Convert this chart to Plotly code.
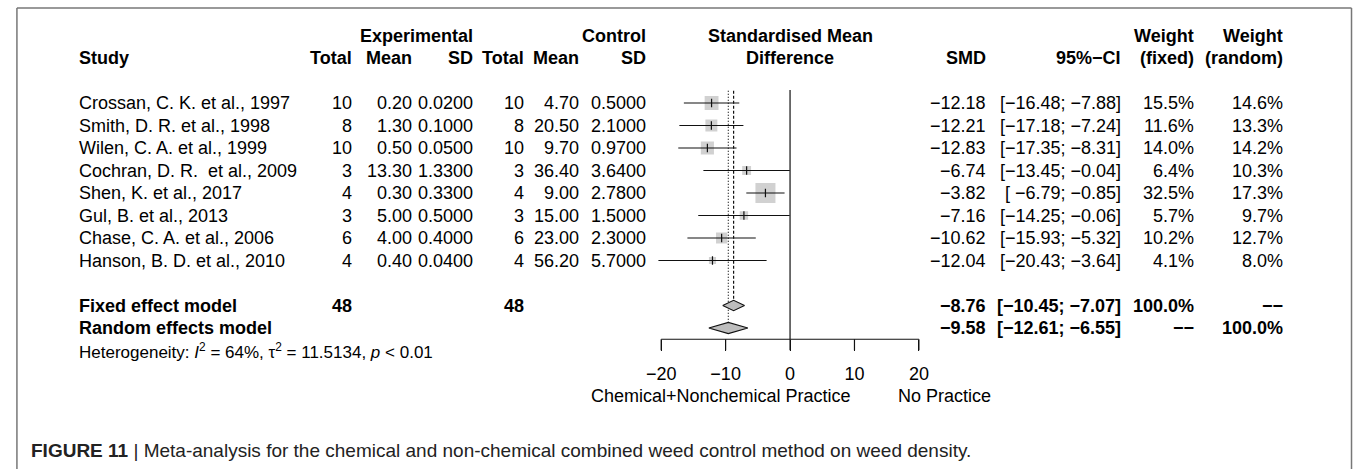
import plotly.graph_objects as go
import math

# ---------------- data ----------------
studies = ["Crossan, C. K. et al., 1997", "Smith, D. R. et al., 1998", "Wilen, C. A. et al., 1999",
           "Cochran, D. R.\u00a0 et al., 2009", "Shen, K. et al., 2017", "Gul, B. et al., 2013",
           "Chase, C. A. et al., 2006", "Hanson, B. D. et al., 2010"]
exp_n = [10, 8, 10, 3, 4, 3, 6, 4]
exp_mean = [0.20, 1.30, 0.50, 13.30, 0.30, 5.00, 4.00, 0.40]
exp_sd = [0.0200, 0.1000, 0.0500, 1.3300, 0.3300, 0.5000, 0.4000, 0.0400]
ctrl_n = [10, 8, 10, 3, 4, 3, 6, 4]
ctrl_mean = [4.70, 20.50, 9.70, 36.40, 9.00, 15.00, 23.00, 56.20]
ctrl_sd = [0.5000, 2.1000, 0.9700, 3.6400, 2.7800, 1.5000, 2.3000, 5.7000]
smd = [-12.18, -12.21, -12.83, -6.74, -3.82, -7.16, -10.62, -12.04]
ci_lo = [-16.48, -17.18, -17.35, -13.45, -6.79, -14.25, -15.93, -20.43]
ci_hi = [-7.88, -7.24, -8.31, -0.04, -0.85, -0.06, -5.32, -3.64]
w_fixed = [15.5, 11.6, 14.0, 6.4, 32.5, 5.7, 10.2, 4.1]
w_random = [14.6, 13.3, 14.2, 10.3, 17.3, 9.7, 12.7, 8.0]

fixed_est, fixed_lo, fixed_hi = -8.76, -10.45, -7.07
random_est, random_lo, random_hi = -9.58, -12.61, -6.55
total_exp, total_ctrl = 48, 48
tick_vals = [-20, -10, 0, 10, 20]
label_left, label_left_pos = "Chemical+Nonchemical Practice", -10.7
label_right, label_right_pos = "No Practice", 24.0

# ---------------- geometry ----------------
W, H = 1357, 469
ROW0, ROWH = 103.0, 22.5          # pixel y of first study row, row height
X0, XS = 788.6, 6.505             # pixel x of SMD 0, pixels per unit
XR = (-21, 21)
FONT = "Liberation Sans, Arial, Helvetica, sans-serif"
FS = 18
LC = "#111"


def px(x):
    return x / W


def py(y):
    return 1 - y / H


def xdata_to_paper(v):
    return px(X0 + v * XS)


n = len(studies)
r_fixed = n + 1
r_random = n + 2
r_axis = n + 2.5
tick_len_rows = 11 / ROWH

fig = go.Figure()

# squares
sizes = [20 * math.sqrt(w / max(w_fixed)) for w in w_fixed]
fig.add_trace(go.Scatter(x=smd, y=list(range(n)), mode="markers",
                         marker=dict(symbol="square", size=sizes, color="#bdbdbd", line=dict(width=0)),
                         hoverinfo="skip"))
# CI lines
lx, ly = [], []
for i in range(n):
    lx += [ci_lo[i], ci_hi[i], None]
    ly += [i, i, None]
fig.add_trace(go.Scatter(x=lx, y=ly, mode="lines", line=dict(color=LC, width=1.2), hoverinfo="skip"))
# estimate tick
fig.add_trace(go.Scatter(x=smd, y=list(range(n)), mode="markers",
                         marker=dict(symbol="line-ns", size=6, line=dict(color=LC, width=1.2)),
                         hoverinfo="skip"))

# reference lines
fig.add_trace(go.Scatter(x=[0, 0], y=[-0.58, r_axis], mode="lines",
                         line=dict(color=LC, width=1.2), hoverinfo="skip"))
fig.add_trace(go.Scatter(x=[fixed_est, fixed_est], y=[-0.55, r_fixed - 0.23], mode="lines",
                         line=dict(color=LC, width=1.2, dash="3px,2px"), hoverinfo="skip"))
fig.add_trace(go.Scatter(x=[random_est, random_est], y=[-0.55, r_random - 0.25], mode="lines",
                         line=dict(color=LC, width=1.2, dash="1px,2px"), hoverinfo="skip"))

# diamonds
for est, lo, hi, r, h in [(fixed_est, fixed_lo, fixed_hi, r_fixed, 0.23),
                          (random_est, random_lo, random_hi, r_random, 0.25)]:
    fig.add_trace(go.Scatter(x=[lo, est, hi, est, lo], y=[r, r - h, r, r + h, r], mode="lines",
                             fill="toself", fillcolor="#bdbdbd", line=dict(color=LC, width=1.1),
                             hoverinfo="skip"))

# axis line and ticks
ax_x = [min(tick_vals), max(tick_vals), None]
ax_y = [r_axis, r_axis, None]
for t in tick_vals:
    ax_x += [t, t, None]
    ax_y += [r_axis, r_axis + tick_len_rows, None]
fig.add_trace(go.Scatter(x=ax_x, y=ax_y, mode="lines",
                         line=dict(color=LC, width=1.2), hoverinfo="skip"))

# ---------------- text ----------------
ann = []


def txt(x, y, s, anchor="right", size=FS, bold=False, xref="paper", yref="y", color="black"):
    if bold:
        s = "<b>" + s + "</b>"
    ann.append(dict(x=x, y=y, xref=xref, yref=yref, text=s, showarrow=False,
                    xanchor=anchor, yanchor="middle", font=dict(family=FONT, size=size, color=color)))


def m(s):
    return s.replace("-", "\u2212")


# column right edges (px)
C_STUDY = 69
C_EN, C_EM, C_ES = 348, 409, 471
C_CN, C_CM, C_CS = 522, 578, 645
C_SMD, C_CI, C_WF, C_WR = 988, 1125, 1198, 1288
C_MID = 789
DASH = "\u2212\u2212"

# headers
txt(px(C_ES), -3, "Experimental", bold=True)
txt(px(C_CS), -3, "Control", bold=True)
txt(px(C_MID), -3, "Standardised Mean", anchor="center", bold=True)
txt(px(C_WF), -3, "Weight", bold=True)
txt(px(C_WR), -3, "Weight", bold=True)
txt(px(C_STUDY), -2, "Study", anchor="left", bold=True)
for c, s in [(C_EN, "Total"), (C_EM, "Mean"), (C_ES, "SD"), (C_CN, "Total"), (C_CM, "Mean"),
             (C_CS, "SD"), (C_SMD, "SMD"), (C_CI, "95%\u2212CI"), (C_WF, "(fixed)"), (C_WR, "(random)")]:
    txt(px(c), -2, s, bold=True)
txt(px(C_MID), -2, "Difference", anchor="center", bold=True)

# study rows
for i in range(n):
    txt(px(C_STUDY), i, studies[i], anchor="left")
    txt(px(C_EN), i, f"{exp_n[i]}")
    txt(px(C_EM), i, f"{exp_mean[i]:.2f}")
    txt(px(C_ES), i, f"{exp_sd[i]:.4f}")
    txt(px(C_CN), i, f"{ctrl_n[i]}")
    txt(px(C_CM), i, f"{ctrl_mean[i]:.2f}")
    txt(px(C_CS), i, f"{ctrl_sd[i]:.4f}")
    txt(px(C_SMD), i, m(f"{smd[i]:.2f}"))
    txt(px(C_CI), i, m(f"[{ci_lo[i]:6.2f}; {ci_hi[i]:.2f}]"))
    txt(px(C_WF), i, f"{w_fixed[i]:.1f}%")
    txt(px(C_WR), i, f"{w_random[i]:.1f}%")

# summary rows
txt(px(C_STUDY), r_fixed, "Fixed effect model", anchor="left", bold=True)
txt(px(C_EN), r_fixed, f"{total_exp}", bold=True)
txt(px(C_CN), r_fixed, f"{total_ctrl}", bold=True)
txt(px(C_SMD), r_fixed, m(f"{fixed_est:.2f}"), bold=True)
txt(px(C_CI), r_fixed, m(f"[{fixed_lo:.2f}; {fixed_hi:.2f}]"), bold=True)
txt(px(C_WF), r_fixed, "100.0%", bold=True)
txt(px(C_WR), r_fixed, DASH, bold=True)

txt(px(C_STUDY), r_random, "Random effects model", anchor="left", bold=True)
txt(px(C_SMD), r_random, m(f"{random_est:.2f}"), bold=True)
txt(px(C_CI), r_random, m(f"[{random_lo:.2f}; {random_hi:.2f}]"), bold=True)
txt(px(C_WF), r_random, DASH, bold=True)
txt(px(C_WR), r_random, "100.0%", bold=True)

txt(px(C_STUDY), n + 3,
    "Heterogeneity: <i>I</i><sup>2</sup> = 64%, \u03c4<sup>2</sup> = 11.5134, <i>p</i> < 0.01",
    anchor="left", size=17)

# axis labels (sides of the SMD scale)
txt(xdata_to_paper(label_left_pos), n + 5.0, label_left, anchor="center")
txt(xdata_to_paper(label_right_pos), n + 5.0, label_right, anchor="center")

# caption
ann.append(dict(x=px(20), y=py(450), xref="paper", yref="paper", showarrow=False,
                xanchor="left", yanchor="middle",
                text="<b>FIGURE 11</b> | Meta-analysis for the chemical and non-chemical combined weed control method on weed density.",
                font=dict(family=FONT, size=19, color="#222")))

# border
shapes = [
    dict(type="line", xref="paper", yref="paper", x0=px(8), x1=px(1355.5), y0=py(8), y1=py(8),
         line=dict(color="#777", width=1.5)),
    dict(type="line", xref="paper", yref="paper", x0=px(8), x1=px(8), y0=py(8), y1=py(H + 5),
         line=dict(color="#777", width=1.5)),
    dict(type="line", xref="paper", yref="paper", x0=px(1355.5), x1=px(1355.5), y0=py(8), y1=py(H + 5),
         line=dict(color="#777", width=1.5)),
]

x_left = X0 + XR[0] * XS
x_right = X0 + XR[1] * XS
y_top_row = -ROW0 / ROWH
y_bot_row = (H - ROW0) / ROWH
axis_px = ROW0 + ROWH * r_axis

fig.update_layout(
    width=W, height=H, margin=dict(l=0, r=0, t=0, b=0),
    paper_bgcolor="white", plot_bgcolor="rgba(0,0,0,0)", showlegend=False,
    annotations=ann, shapes=shapes,
    xaxis=dict(domain=[px(x_left), px(x_right)], range=list(XR), anchor="free", position=py(axis_px),
               showgrid=False, zeroline=False, showline=False, ticks="outside", ticklen=11,
               tickwidth=1.2, tickcolor=LC, tickvals=tick_vals, ticklabelstandoff=7,
               tickfont=dict(family=FONT, size=FS, color="black")),
    yaxis=dict(domain=[0, 1], range=[y_bot_row, y_top_row], visible=False),
)

fig.write_html("out.html")
